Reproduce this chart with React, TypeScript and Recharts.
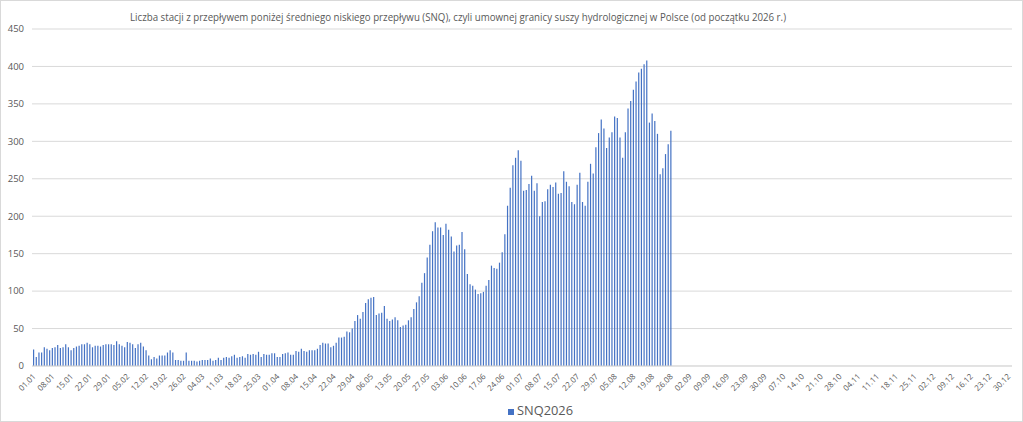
import React from "react"
import { BarChart, Bar, XAxis, YAxis, CartesianGrid } from "recharts"

// number of stations below SNQ, one value per day (axis uses a 366-day calendar)
const jan = [22, 12, 18, 18, 25, 23, 21, 24, 25, 28, 24, 25, 29, 25, 21, 24, 26, 27, 29, 29, 31, 29, 25, 27, 27, 26, 28, 29, 29, 29, 28]
const feb = [33, 29, 27, 25, 32, 31, 29, 24, 29, 31, 26, 21, 14, 9, 12, 10, 14, 14, 14, 18, 21, 18, 8, 8, 7, 7, 18, 7, 7]
const mar = [7, 6, 7, 8, 8, 8, 10, 7, 8, 11, 8, 11, 12, 11, 13, 15, 11, 12, 13, 11, 16, 15, 16, 15, 19, 12, 16, 15, 15, 17, 17]
const apr = [12, 12, 16, 17, 18, 15, 15, 20, 19, 23, 20, 19, 21, 21, 21, 23, 28, 31, 30, 30, 25, 27, 31, 38, 38, 39, 46, 45, 50, 60]
const may = [68, 63, 72, 84, 89, 91, 92, 68, 70, 71, 80, 63, 60, 62, 65, 61, 52, 54, 55, 61, 65, 76, 85, 93, 111, 124, 145, 162, 180, 192, 185]
const jun = [185, 175, 190, 182, 173, 153, 161, 162, 179, 156, 123, 109, 107, 102, 96, 97, 99, 107, 115, 134, 131, 130, 138, 152, 176, 214, 238, 268, 278, 288]
const jul = [274, 234, 235, 243, 254, 234, 244, 200, 219, 220, 236, 242, 239, 245, 230, 231, 260, 246, 240, 219, 216, 242, 258, 219, 214, 246, 270, 257, 292, 311, 329]
const aug = [317, 291, 305, 312, 333, 331, 305, 278, 312, 344, 354, 369, 380, 392, 397, 403, 408, 325, 337, 327, 310, 256, 264, 283, 296, 314]

const monthDays = [31, 29, 31, 30, 31, 30, 31, 31, 30, 31, 30, 31]
const monthValues = [jan, feb, mar, apr, may, jun, jul, aug]
const yTicks = [0, 50, 100, 150, 200, 250, 300, 350, 400, 450]

const title =
  "Liczba stacji z przepływem poniżej średniego niskiego przepływu (SNQ), czyli umownej granicy suszy hydrologicznej w Polsce (od początku 2026 r.)"
const seriesName = "SNQ2026"

const pad = (n: number) => (n < 10 ? "0" + n : "" + n)

const data: { date: string; value?: number }[] = []
monthDays.forEach((days, m) => {
  for (let d = 1; d <= days; d++) {
    const vals = monthValues[m] || []
    data.push({ date: `${pad(d)}.${pad(m + 1)}`, value: vals[d - 1] })
  }
})

const BLUE = "#4472C4"
const GREY_TEXT = "#595959"
const FONT = "'Open Sans', 'Liberation Sans', sans-serif"

const DateTick = (props: any) => {
  const { x, y, payload } = props
  const ax = x + 3
  const ay = y + 11
  return (
    <text
      x={ax}
      y={ay}
      transform={`rotate(-45, ${ax}, ${ay})`}
      textAnchor="end"
      fontSize={8}
      fontFamily={FONT}
      fill={GREY_TEXT}
    >
      {payload.value}
    </text>
  )
}

export default function App() {
  return (
    <div
      style={{
        position: "absolute",
        left: 0,
        top: 0,
        width: 1023,
        height: 422,
        background: "#fff",
        boxSizing: "border-box",
        border: "1px solid #d9d9d9",
      }}
    >
      <svg width={1023} height={40} style={{ position: "absolute", left: -1, top: -1 }}>
        <text x={130} y={21} fontSize={10.5} fontFamily={FONT} fill={GREY_TEXT} textLength={656} lengthAdjust="spacingAndGlyphs">
          {title}
        </text>
      </svg>
      <div style={{ position: "absolute", left: -1, top: -1 }}>
        <BarChart
          width={1023}
          height={422}
          data={data}
          margin={{ top: 29, right: 11, bottom: 26, left: 0 }}
          barSize={1.2}
        >
          <CartesianGrid vertical={false} stroke="#d9d9d9" strokeWidth={1} />
          <XAxis
            dataKey="date"
            interval={6}
            height={30}
            tickLine={false}
            tickSize={0}
            tickMargin={0}
            axisLine={{ stroke: "#d9d9d9" }}
            tick={<DateTick />}
          />
          <YAxis
            width={32}
            domain={[0, 450]}
            ticks={yTicks}
            axisLine={false}
            tickLine={false}
            tickSize={0}
            tickMargin={8}
            tick={{ fontSize: 9.5, fill: GREY_TEXT, fontFamily: FONT }}
          />
          <Bar dataKey="value" name={seriesName} fill={BLUE} barSize={1.2} isAnimationActive={false} />
        </BarChart>
      </div>
      <svg width={1023} height={30} style={{ position: "absolute", left: -1, top: 395 }}>
        <rect x={508} y={13} width={6} height={6} fill={BLUE} />
        <text x={517} y={19} fontSize={12.5} fontFamily={FONT} fill={GREY_TEXT} textLength={56} lengthAdjust="spacingAndGlyphs">
          {seriesName}
        </text>
      </svg>
    </div>
  )
}
